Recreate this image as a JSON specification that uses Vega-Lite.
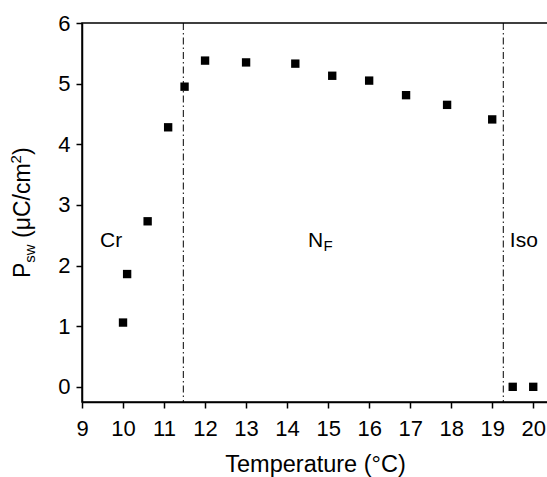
{
  "$schema": "https://vega.github.io/schema/vega-lite/v6.json",
  "width": 466,
  "height": 379,
  "autosize": {"type": "none"},
  "padding": {"left": 82, "top": 23, "right": 0, "bottom": 75},
  "background": "white",
  "config": {
    "font": "Liberation Sans",
    "view": {"stroke": "black", "strokeWidth": 1.5},
    "axis": {
      "domainColor": "black", "domainWidth": 1.5,
      "tickColor": "black", "tickWidth": 1.5,
      "labelColor": "black", "titleColor": "black",
      "labelFont": "Liberation Sans", "titleFont": "Liberation Sans",
      "labelFontSize": 22, "titleFontSize": 23.5, "titleFontWeight": "normal",
      "grid": false, "labelOverlap": false, "labelFlush": false
    }
  },
  "datasets": {
    "points": [
      {"T": 10.0, "P": 1.06}, {"T": 10.1, "P": 1.86}, {"T": 10.6, "P": 2.73},
      {"T": 11.1, "P": 4.28}, {"T": 11.5, "P": 4.95}, {"T": 12.0, "P": 5.38},
      {"T": 13.0, "P": 5.35}, {"T": 14.2, "P": 5.33}, {"T": 15.1, "P": 5.13},
      {"T": 16.0, "P": 5.05}, {"T": 16.9, "P": 4.81}, {"T": 17.9, "P": 4.65},
      {"T": 19.0, "P": 4.41}, {"T": 19.5, "P": 0.0}, {"T": 20.0, "P": 0.0}
    ],
    "transitions": [{"T": 11.47}, {"T": 19.27}],
    "phases": [
      {"label": "Cr", "T": 9.44, "P": 2.3},
      {"label": "N", "T": 14.51, "P": 2.3},
      {"label": "Iso", "T": 19.43, "P": 2.3}
    ],
    "phaseSub": [{"label": "F", "T": 14.51, "P": 2.3}]
  },
  "layer": [
    {
      "data": {"name": "transitions"},
      "mark": {"type": "rule", "color": "black", "strokeWidth": 1, "strokeDash": [7, 3, 1.5, 3]},
      "encoding": {
        "x": {"field": "T", "type": "quantitative",
          "scale": {"domain": [9, 20.36], "nice": false, "zero": false},
          "axis": {
            "title": "Temperature (°C)",
            "values": [9, 9.5, 10, 10.5, 11, 11.5, 12, 12.5, 13, 13.5, 14, 14.5, 15, 15.5, 16, 16.5, 17, 17.5, 18, 18.5, 19, 19.5, 20],
            "labelExpr": "datum.value % 1 === 0 ? format(datum.value, 'd') : ''",
            "tickSize": {"condition": {"test": "datum.value % 1 !== 0", "value": 3}, "value": 6},
            "labelPadding": 10,
            "titlePadding": 13
          }
        }
      }
    },
    {
      "data": {"name": "points"},
      "mark": {"type": "square", "size": 70, "color": "black", "opacity": 1},
      "encoding": {
        "x": {"field": "T", "type": "quantitative"},
        "y": {"field": "P", "type": "quantitative",
          "scale": {"domain": [-0.25, 6], "nice": false, "zero": false},
          "axis": {
            "title": null,
            "values": [0, 0.5, 1, 1.5, 2, 2.5, 3, 3.5, 4, 4.5, 5, 5.5, 6],
            "labelExpr": "datum.value % 1 === 0 ? format(datum.value, 'd') : ''",
            "tickSize": {"condition": {"test": "datum.value % 1 !== 0", "value": 3}, "value": 6},
            "labelPadding": 6
          }
        }
      }
    },
    {
      "data": {"name": "phases"},
      "mark": {"type": "text", "align": "left", "baseline": "alphabetic", "fontSize": 21, "color": "black"},
      "encoding": {
        "x": {"field": "T", "type": "quantitative"},
        "y": {"field": "P", "type": "quantitative"},
        "text": {"field": "label"}
      }
    },
    {
      "data": {"name": "phaseSub"},
      "mark": {"type": "text", "align": "left", "baseline": "alphabetic", "fontSize": 15, "dx": 15.5, "dy": 4, "color": "black"},
      "encoding": {
        "x": {"field": "T", "type": "quantitative"},
        "y": {"field": "P", "type": "quantitative"},
        "text": {"field": "label"}
      }
    },
    {
      "data": {"values": [{"s": "P"}]},
      "mark": {"type": "text", "align": "left", "baseline": "alphabetic", "angle": 270, "fontSize": 23, "color": "black"},
      "encoding": {"x": {"datum": 7.733, "type": "quantitative"}, "y": {"datum": 1.795, "type": "quantitative"}, "text": {"field": "s"}}
    },
    {
      "data": {"values": [{"s": "sw"}]},
      "mark": {"type": "text", "align": "left", "baseline": "alphabetic", "angle": 270, "fontSize": 15, "dx": 15.3, "dy": 5, "color": "black"},
      "encoding": {"x": {"datum": 7.733, "type": "quantitative"}, "y": {"datum": 1.795, "type": "quantitative"}, "text": {"field": "s"}}
    },
    {
      "data": {"values": [{"s": "(μC/cm"}]},
      "mark": {"type": "text", "align": "left", "baseline": "alphabetic", "angle": 270, "fontSize": 23, "dx": 40, "color": "black"},
      "encoding": {"x": {"datum": 7.733, "type": "quantitative"}, "y": {"datum": 1.795, "type": "quantitative"}, "text": {"field": "s"}}
    },
    {
      "data": {"values": [{"s": "2"}]},
      "mark": {"type": "text", "align": "left", "baseline": "alphabetic", "angle": 270, "fontSize": 15, "dx": 114.6, "dy": -9, "color": "black"},
      "encoding": {"x": {"datum": 7.733, "type": "quantitative"}, "y": {"datum": 1.795, "type": "quantitative"}, "text": {"field": "s"}}
    },
    {
      "data": {"values": [{"s": ")"}]},
      "mark": {"type": "text", "align": "left", "baseline": "alphabetic", "angle": 270, "fontSize": 23, "dx": 123, "color": "black"},
      "encoding": {"x": {"datum": 7.733, "type": "quantitative"}, "y": {"datum": 1.795, "type": "quantitative"}, "text": {"field": "s"}}
    }
  ]
}
